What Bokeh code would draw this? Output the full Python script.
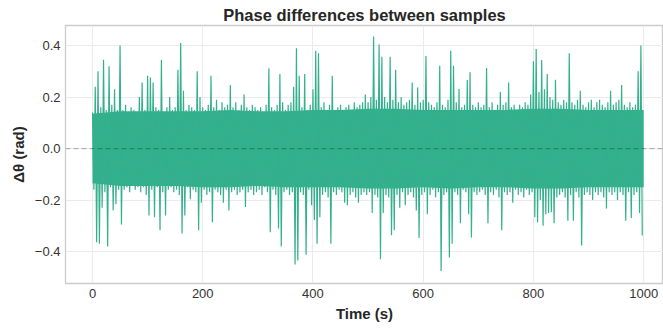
from bokeh.plotting import figure
from bokeh.models import Range1d, FixedTicker, CustomJSTickFormatter, Span
from bokeh.embed import file_html
from bokeh.resources import INLINE

# ---- data ----
# extremes per 5 s bin: upper value at bin start, lower value at bin middle
bin_start = [5 * i for i in range(200)]
bin_high = [
    0.14, 0.24, 0.30, 0.16, 0.345, 0.15, 0.32, 0.17, 0.23, 0.15,
    0.40, 0.15, 0.17, 0.14, 0.16, 0.15, 0.14, 0.20, 0.257, 0.15,
    0.283, 0.276, 0.257, 0.16, 0.15, 0.344, 0.14, 0.16, 0.20, 0.15,
    0.16, 0.306, 0.41, 0.225, 0.15, 0.17, 0.16, 0.15, 0.30, 0.20,
    0.16, 0.15, 0.17, 0.283, 0.16, 0.19, 0.15, 0.18, 0.16, 0.17,
    0.247, 0.16, 0.18, 0.15, 0.17, 0.21, 0.16, 0.15, 0.17, 0.16,
    0.15, 0.16, 0.14, 0.17, 0.312, 0.16, 0.15, 0.17, 0.29, 0.18,
    0.15, 0.17, 0.18, 0.24, 0.39, 0.283, 0.16, 0.29, 0.15, 0.17,
    0.23, 0.38, 0.37, 0.16, 0.18, 0.15, 0.17, 0.283, 0.15, 0.16,
    0.17, 0.15, 0.16, 0.17, 0.15, 0.18, 0.16, 0.17, 0.18, 0.21,
    0.18, 0.20, 0.435, 0.19, 0.404, 0.357, 0.20, 0.18, 0.357, 0.19,
    0.306, 0.18, 0.20, 0.17, 0.18, 0.19, 0.257, 0.17, 0.237, 0.18,
    0.19, 0.36, 0.18, 0.17, 0.16, 0.18, 0.322, 0.17, 0.16, 0.19,
    0.38, 0.322, 0.18, 0.231, 0.16, 0.17, 0.266, 0.296, 0.17, 0.16,
    0.18, 0.16, 0.17, 0.313, 0.16, 0.18, 0.15, 0.17, 0.22, 0.17,
    0.18, 0.257, 0.16, 0.17, 0.15, 0.17, 0.16, 0.18, 0.17, 0.21,
    0.339, 0.387, 0.22, 0.344, 0.23, 0.29, 0.20, 0.19, 0.267, 0.18,
    0.17, 0.19, 0.18, 0.37, 0.18, 0.17, 0.19, 0.225, 0.17, 0.16,
    0.18, 0.19, 0.16, 0.18, 0.19, 0.17, 0.16, 0.18, 0.225, 0.17,
    0.18, 0.19, 0.247, 0.17, 0.16, 0.18, 0.16, 0.17, 0.30, 0.40,
]
bin_low = [
    -0.16, -0.364, -0.37, -0.23, -0.17, -0.38, -0.15, -0.24, -0.216, -0.16,
    -0.295, -0.16, -0.15, -0.17, -0.14, -0.16, -0.15, -0.17, -0.15, -0.18,
    -0.26, -0.16, -0.267, -0.15, -0.317, -0.17, -0.26, -0.16, -0.15, -0.17,
    -0.16, -0.18, -0.33, -0.26, -0.15, -0.197, -0.16, -0.17, -0.317, -0.21,
    -0.16, -0.18, -0.17, -0.286, -0.16, -0.17, -0.18, -0.21, -0.16, -0.24,
    -0.17, -0.16, -0.18, -0.17, -0.16, -0.227, -0.17, -0.16, -0.18, -0.17,
    -0.16, -0.18, -0.15, -0.17, -0.325, -0.16, -0.18, -0.31, -0.38, -0.17,
    -0.16, -0.18, -0.17, -0.45, -0.435, -0.17, -0.18, -0.412, -0.16, -0.22,
    -0.277, -0.37, -0.267, -0.18, -0.17, -0.19, -0.37, -0.17, -0.18, -0.16,
    -0.17, -0.21, -0.22, -0.18, -0.17, -0.19, -0.21, -0.18, -0.17, -0.18,
    -0.17, -0.25, -0.18, -0.19, -0.43, -0.25, -0.18, -0.19, -0.337, -0.317,
    -0.18, -0.23, -0.17, -0.22, -0.18, -0.17, -0.19, -0.24, -0.347, -0.18,
    -0.17, -0.255, -0.18, -0.16, -0.19, -0.17, -0.475, -0.18, -0.17, -0.423,
    -0.37, -0.17, -0.18, -0.29, -0.16, -0.17, -0.255, -0.345, -0.17, -0.18,
    -0.17, -0.16, -0.18, -0.29, -0.17, -0.18, -0.16, -0.19, -0.317, -0.17,
    -0.18, -0.17, -0.21, -0.16, -0.18, -0.17, -0.19, -0.16, -0.18, -0.17,
    -0.267, -0.286, -0.20, -0.30, -0.255, -0.25, -0.247, -0.29, -0.19, -0.18,
    -0.17, -0.19, -0.28, -0.18, -0.28, -0.17, -0.19, -0.376, -0.18, -0.17,
    -0.18, -0.20, -0.17, -0.18, -0.17, -0.19, -0.233, -0.17, -0.18, -0.17,
    -0.20, -0.17, -0.18, -0.28, -0.17, -0.27, -0.18, -0.17, -0.25, -0.338,
]
# extent of the solid (fully dense) part of the band, every 50 s
core_t = [0, 50, 100, 150, 200, 250, 300, 350, 400, 450, 500,
          550, 600, 650, 700, 750, 800, 850, 900, 950, 1000]
core_high = [0.135, 0.145, 0.145, 0.145, 0.145, 0.15, 0.145, 0.145, 0.15, 0.15, 0.155,
             0.155, 0.15, 0.15, 0.15, 0.15, 0.155, 0.155, 0.15, 0.15, 0.15]
core_low = [-0.135, -0.145, -0.145, -0.145, -0.15, -0.15, -0.145, -0.15, -0.15, -0.15, -0.155,
            -0.155, -0.15, -0.155, -0.15, -0.15, -0.155, -0.155, -0.15, -0.15, -0.15]
x_ticks = [0, 200, 400, 600, 800, 1000]
y_ticks = [-0.4, -0.2, 0.0, 0.2, 0.4]

xs, ys = [], []
for t, hi, lo in zip(bin_start, bin_high, bin_low):
    xs += [t, t + 2.5]
    ys += [hi, lo]

FONT = "Liberation Sans"
GREEN = "#33b08c"

p = figure(width=663, height=331, output_backend="svg", toolbar_location=None,
           x_range=Range1d(-49, 1036), y_range=Range1d(-0.524, 0.478),
           min_border_left=65, min_border_right=0, min_border_top=25,
           min_border_bottom=48, background_fill_color="white",
           border_fill_color="white")

p.title.text = "Phase differences between samples"
p.title.align = "center"
p.title.text_font = FONT
p.title.text_font_size = "16.5px"
p.title.text_font_style = "bold"
p.title.text_color = "#262626"
p.title.standoff = 4
p.title.offset = 0

p.varea(x=core_t, y1=core_low, y2=core_high, fill_color=GREEN)
p.line(xs, ys, line_color=GREEN, line_width=1.2)
p.add_layout(Span(location=0, dimension="width", line_color="black",
                  line_alpha=0.25, line_dash="5 3", line_width=1.2))

p.outline_line_color = "#cccccc"
p.outline_line_width = 1.3

for ax in (p.xaxis, p.yaxis):
    ax.axis_line_color = None
    ax.major_tick_line_color = None
    ax.minor_tick_line_color = None
    ax.major_tick_out = 0
    ax.major_tick_in = 0
    ax.minor_tick_out = 0
    ax.minor_tick_in = 0
    ax.major_label_text_font = FONT
    ax.major_label_text_font_size = "13px"
    ax.major_label_text_color = "#333333"
    ax.axis_label_text_font = FONT
    ax.axis_label_text_font_size = "15px"
    ax.axis_label_text_font_style = "bold"
    ax.axis_label_text_color = "#262626"

p.xaxis.ticker = FixedTicker(ticks=x_ticks)
p.yaxis.ticker = FixedTicker(ticks=y_ticks)
p.yaxis.formatter = CustomJSTickFormatter(
    code="return (tick < -1e-9 ? '\\u2212' : '') + Math.abs(tick).toFixed(1);")
p.xaxis.axis_label = "Time (s)"
p.yaxis.axis_label = "Δθ (rad)"
p.xaxis.major_label_standoff = 5
p.xaxis.axis_label_standoff = 4
p.yaxis.major_label_standoff = 5
p.yaxis.axis_label_standoff = 5

p.xgrid.grid_line_color = "#ebebeb"
p.ygrid.grid_line_color = "#ebebeb"

open("out.html", "w").write(file_html(p, INLINE))
